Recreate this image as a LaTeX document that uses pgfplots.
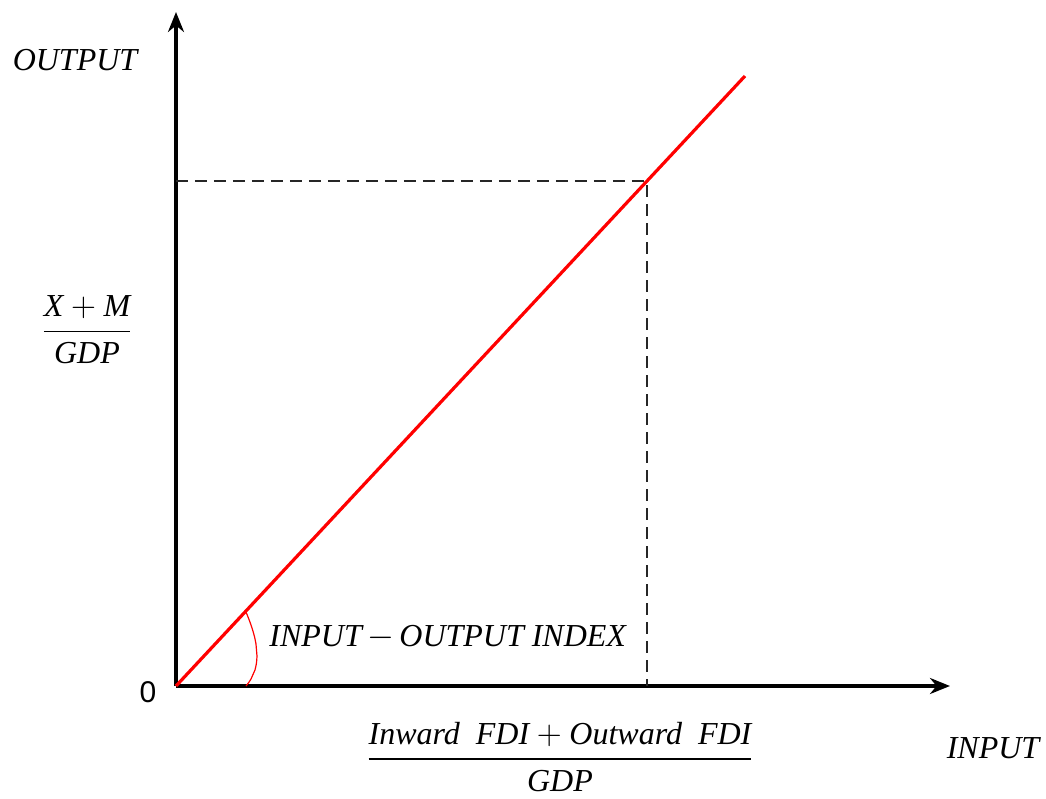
\documentclass[border=0pt]{standalone}
\usepackage{amsmath}
\usepackage{fontspec}
\setmainfont{Liberation Serif}
\usepackage{pgfplots}
\pgfplotsset{compat=1.18}
\usetikzlibrary{arrows.meta}
\begin{document}
\begin{tikzpicture}
\begin{axis}[
  scale only axis,
  width=387pt, height=337pt,
  xmin=0, xmax=774, ymin=0, ymax=674,
  axis lines=left,
  axis line style={line width=2.2pt, -{Stealth[length=10pt,width=8pt]}},
  xtick=\empty, ytick=\empty,
  clip=false,
]
\path (axis cs:-176,-113) rectangle (axis cs:870,686);
% dashed guides
\addplot[black!85, line width=0.8pt, dash pattern=on 6pt off 3.5pt] coordinates {(0,505) (471,505) (471,0)};
% red line
\addplot[red, line width=1.6pt] coordinates {(0,0) (569,610)};
% angle arc
\addplot[red, line width=0.6pt, smooth, tension=0.8] coordinates {(70,74) (76,58) (80,42) (81,30) (79,16) (75,7) (70,0)};
% labels
\node at (axis cs:-101,626) {\fontsize{16}{19}\selectfont\itshape OUTPUT};
\node at (axis cs:-89,356) {\fontsize{16}{19}\selectfont $\displaystyle\genfrac{}{}{0.9pt}{}{\textit{X}+\textit{M}}{\textit{GDP}}$};
\node at (axis cs:-28,-6) {\fontsize{15}{18}\selectfont\fontspec{Liberation Sans}0};
\node[anchor=west, inner sep=0pt] at (axis cs:93,49) {\fontsize{16}{19}\selectfont\itshape INPUT\,$-$\,OUTPUT INDEX};
\node at (axis cs:384,-71) {\fontsize{16}{19}\selectfont $\displaystyle\genfrac{}{}{0.9pt}{}{\textit{Inward\ \ FDI}+\textit{Outward\ \ FDI}}{\textit{GDP}}$};
\node at (axis cs:817,-62) {\fontsize{16}{19}\selectfont\itshape INPUT};
\end{axis}
\end{tikzpicture}
\end{document}
